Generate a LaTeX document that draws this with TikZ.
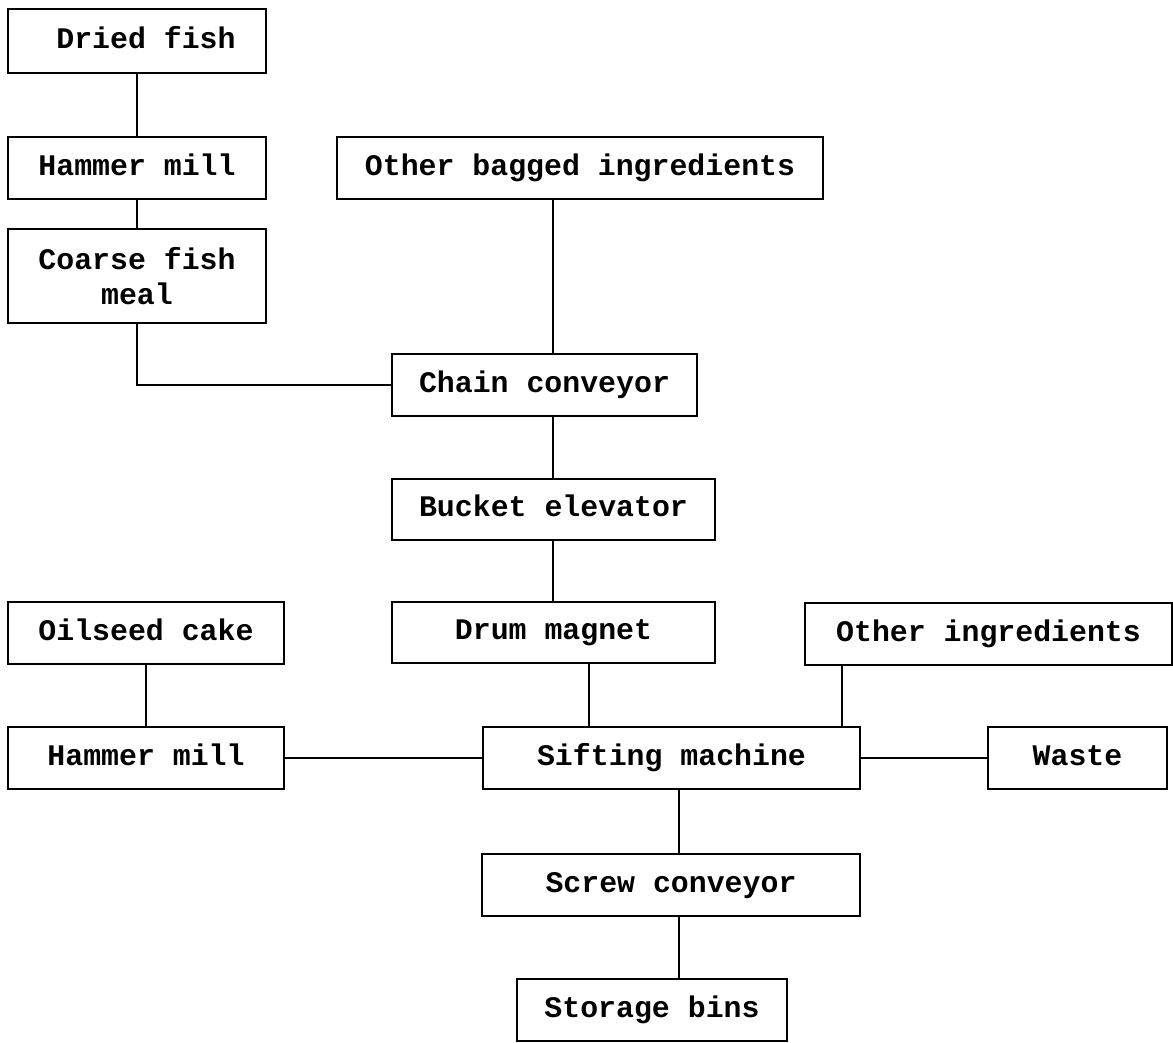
\documentclass[tikz,border=0pt]{standalone}
\usepackage{fontspec}
\setmonofont{Liberation Mono}
\usepackage{tikz}
\usetikzlibrary{positioning}
\tikzstyle{block} = [rectangle, draw=black, line width=1.1pt, inner sep=0pt,
text centered, align=center, text height=11.5pt, text depth=3.5pt,
font=\ttfamily\bfseries\fontsize{17}{20}\selectfont]
\tikzstyle{link} = [line width=1.1pt]

\begin{document}
\begin{tikzpicture}[x=0.02cm, y=-0.02cm]
        % Marco
        \useasboundingbox (0,0) rectangle (1173,1043);

        % Columna del pescado
        \node[block, minimum width=5.16cm, minimum height=1.28cm] (dried) at (137,41) {~Dried fish};
        \node[block, minimum width=5.16cm, minimum height=1.24cm] (ham1) at (137,168) {Hammer mill};
        \node[block, minimum width=5.16cm, minimum height=1.88cm, text height=, text depth=] (coarse) at (137,276) {Coarse fish\\meal};

        % Linea principal
        \node[block, minimum width=9.72cm, minimum height=1.24cm] (bagged) at (580,168) {Other bagged ingredients};
        \node[block, minimum width=6.10cm, minimum height=1.24cm] (chain) at (544.5,385) {Chain conveyor};
        \node[block, minimum width=6.46cm, minimum height=1.22cm] (bucket) at (553.5,509.5) {Bucket elevator};
        \node[block, minimum width=6.46cm, minimum height=1.22cm] (drum) at (553.5,632.5) {Drum magnet};

        % Fila inferior
        \node[block, minimum width=5.52cm, minimum height=1.24cm] (oilseed) at (146,633) {Oilseed cake};
        \node[block, minimum width=7.34cm, minimum height=1.24cm] (other) at (988.5,634) {Other ingredients};
        \node[block, minimum width=5.52cm, minimum height=1.24cm] (ham2) at (146,758) {Hammer mill};
        \node[block, minimum width=7.54cm, minimum height=1.24cm] (sift) at (671.5,758) {Sifting machine};
        \node[block, minimum width=3.58cm, minimum height=1.24cm] (waste) at (1077.5,758) {Waste};
        \node[block, minimum width=7.56cm, minimum height=1.24cm] (screw) at (671,885) {Screw conveyor};
        \node[block, minimum width=5.40cm, minimum height=1.24cm] (storage) at (652,1010) {Storage bins};

        % Columnas de las uniones
        \coordinate (colmain) at (553,0);
        \coordinate (coldrum) at (589,0);
        \coordinate (colother) at (842,0);
        \coordinate (colsift) at (679,0);

        % Uniones
        \draw[link] (dried) -- (ham1);
        \draw[link] (ham1) -- (coarse);
        \draw[link] (coarse.south) |- (chain.west);
        \draw[link] (bagged.south -| colmain) -- (chain.north -| colmain);
        \draw[link] (chain.south -| colmain) -- (bucket.north -| colmain);
        \draw[link] (bucket.south -| colmain) -- (drum.north -| colmain);
        \draw[link] (oilseed) -- (ham2);
        \draw[link] (drum.south -| coldrum) -- (sift.north -| coldrum);
        \draw[link] (other.south -| colother) -- (sift.north -| colother);
        \draw[link] (ham2.east) -- (sift.west);
        \draw[link] (sift) -- (waste);
        \draw[link] (sift.south -| colsift) -- (screw.north -| colsift);
        \draw[link] (screw.south -| colsift) -- (storage.north -| colsift);
    \end{tikzpicture}
\end{document}
